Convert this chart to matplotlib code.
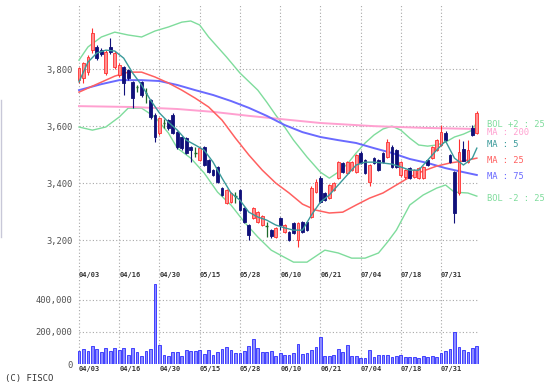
import matplotlib
matplotlib.use("Agg")
import matplotlib.pyplot as plt
import matplotlib.transforms as mtransforms
import numpy as np

# daily candles
opens = [3761, 3768, 3789, 3866, 3877, 3866, 3786, 3877, 3807, 3779,
         3807, 3796, 3754, 3737, 3754, 3716, 3691, 3639, 3576, 3611,
         3621, 3639, 3579, 3562, 3558, 3527, 3506, 3481, 3527, 3481,
         3446, 3457, 3384, 3331, 3334, 3355, 3376, 3313, 3254, 3279,
         3264, 3254, 3250, 3236, 3212, 3279, 3229, 3229, 3261, 3201,
         3264, 3264, 3282, 3369, 3418, 3366, 3348, 3376, 3418, 3471,
         3436, 3446, 3439, 3506, 3481, 3404, 3488, 3481, 3506, 3492,
         3527, 3516, 3429, 3422, 3453, 3422, 3418, 3418, 3481, 3488,
         3516, 3534, 3576, 3499, 3439, 3366, 3520, 3474, 3593, 3576]
highs = [3807, 3825, 3849, 3943, 3884, 3873, 3866, 3908, 3862, 3821,
         3810, 3800, 3758, 3744, 3758, 3734, 3695, 3646, 3632, 3625,
         3625, 3646, 3583, 3565, 3562, 3530, 3527, 3527, 3530, 3485,
         3450, 3460, 3387, 3380, 3369, 3369, 3380, 3317, 3257, 3317,
         3303, 3289, 3264, 3240, 3247, 3282, 3257, 3232, 3264, 3264,
         3268, 3268, 3390, 3415, 3425, 3369, 3398, 3404, 3478, 3474,
         3478, 3478, 3502, 3513, 3485, 3467, 3492, 3485, 3509, 3555,
         3534, 3520, 3478, 3450, 3457, 3450, 3457, 3460, 3485, 3530,
         3555, 3604, 3583, 3502, 3443, 3555, 3548, 3551, 3604, 3653]
lows = [3751, 3751, 3779, 3856, 3831, 3845, 3780, 3852, 3800, 3772,
        3709, 3761, 3663, 3719, 3702, 3681, 3625, 3544, 3569, 3593,
        3586, 3572, 3520, 3516, 3502, 3474, 3492, 3478, 3460, 3436,
        3425, 3401, 3355, 3327, 3331, 3331, 3302, 3261, 3201, 3275,
        3261, 3250, 3212, 3208, 3208, 3236, 3226, 3198, 3222, 3177,
        3226, 3232, 3278, 3366, 3331, 3338, 3345, 3373, 3415, 3436,
        3432, 3443, 3436, 3467, 3432, 3390, 3467, 3443, 3471, 3488,
        3453, 3453, 3422, 3415, 3415, 3418, 3415, 3415, 3460, 3485,
        3513, 3530, 3548, 3471, 3261, 3360, 3478, 3471, 3565, 3572]
closes = [3803, 3821, 3842, 3926, 3838, 3852, 3859, 3859, 3856, 3814,
          3751, 3768, 3698, 3737, 3709, 3716, 3632, 3562, 3628, 3611,
          3593, 3576, 3527, 3523, 3506, 3516, 3506, 3523, 3464, 3439,
          3429, 3404, 3359, 3376, 3366, 3355, 3306, 3264, 3219, 3313,
          3299, 3286, 3250, 3215, 3244, 3254, 3254, 3201, 3226, 3261,
          3229, 3236, 3384, 3404, 3334, 3341, 3394, 3401, 3474, 3439,
          3474, 3474, 3499, 3471, 3436, 3464, 3471, 3446, 3474, 3544,
          3457, 3457, 3474, 3446, 3418, 3446, 3453, 3457, 3464, 3527,
          3551, 3579, 3551, 3474, 3296, 3510, 3478, 3516, 3569, 3646]
volumes = [79000, 94000, 83000, 115000, 94000, 77000, 98000, 83000, 98000,
           90000, 98000, 58000, 98000, 77000, 52000, 79000, 94000, 500000,
           121000, 58000, 52000, 73000, 73000, 52000, 88000, 79000, 79000,
           90000, 62000, 88000, 58000, 73000, 94000, 104000, 90000, 69000,
           69000, 83000, 115000, 156000, 98000, 73000, 73000, 83000, 52000,
           69000, 58000, 58000, 69000, 125000, 62000, 69000, 90000, 104000,
           167000, 52000, 52000, 58000, 94000, 73000, 121000, 52000, 52000,
           37000, 37000, 88000, 42000, 58000, 58000, 58000, 46000, 52000,
           58000, 42000, 42000, 42000, 35000, 48000, 42000, 52000, 42000,
           69000, 83000, 94000, 202000, 104000, 90000, 73000, 100000, 110000]

date_labels = ["04/03", "04/16", "04/30", "05/15", "05/28",
               "06/10", "06/21", "07/04", "07/18", "07/31"]
label_step = 9

# indicator lines, sampled off the chart (bar index, price)
ma5_x = [0, 2, 4, 6, 8, 10, 12, 14, 16, 18, 20, 22, 24, 26, 28, 30, 32, 34, 36, 38,
         40, 42, 44, 46, 48, 50, 52, 54, 56, 58, 60, 62, 64, 66, 68, 70, 72, 74, 76,
         78, 80, 82, 84, 86, 88, 89]
ma5_y = [3755, 3824, 3856, 3866, 3863, 3838, 3786, 3744, 3691, 3646, 3614, 3586,
         3551, 3534, 3516, 3474, 3418, 3366, 3341, 3299, 3282, 3271, 3254, 3244,
         3236, 3236, 3289, 3334, 3359, 3394, 3429, 3464, 3474, 3474, 3471, 3467,
         3457, 3446, 3446, 3481, 3516, 3548, 3488, 3464, 3488, 3523]
ma25_x = [0, 4, 8, 11, 14, 17, 20, 23, 26, 29, 32, 35, 38, 41, 44, 47, 50, 53, 56,
          59, 62, 65, 68, 71, 74, 77, 80, 83, 86, 89]
ma25_y = [3719, 3747, 3775, 3789, 3789, 3772, 3751, 3726, 3698, 3667, 3621, 3558,
          3499, 3446, 3401, 3366, 3327, 3306, 3296, 3299, 3324, 3348, 3366, 3394,
          3422, 3443, 3460, 3471, 3478, 3488]
ma75_x = [0, 5, 9, 14, 18, 22, 26, 30, 34, 38, 42, 46, 50, 54, 58, 62, 66, 70, 74,
          78, 82, 86, 89]
ma75_y = [3726, 3747, 3761, 3761, 3758, 3744, 3726, 3709, 3688, 3664, 3636, 3604,
          3579, 3562, 3551, 3541, 3523, 3506, 3485, 3471, 3453, 3439, 3429]
ma200_x = [0, 12, 22, 30, 38, 45, 54, 66, 77, 89]
ma200_y = [3670, 3667, 3660, 3650, 3636, 3625, 3611, 3600, 3594, 3590]
bolu_x = [0, 2, 5, 8, 11, 14, 17, 20, 23, 25, 27, 29, 31, 33, 36, 40, 42, 44, 46,
          48, 51, 54, 56, 58, 60, 62, 64, 66, 68, 70, 72, 74, 76, 78, 80, 82, 84,
          86, 88, 89]
bolu_y = [3831, 3877, 3912, 3929, 3919, 3912, 3933, 3947, 3964, 3968, 3954, 3912,
          3877, 3842, 3786, 3726, 3684, 3639, 3597, 3551, 3492, 3439, 3418, 3439,
          3467, 3506, 3541, 3569, 3590, 3600, 3586, 3558, 3534, 3530, 3534, 3544,
          3562, 3572, 3586, 3614]
boll_x = [0, 3, 6, 9, 11, 14, 17, 20, 22, 25, 28, 31, 34, 37, 40, 43, 45, 48, 51,
          55, 58, 61, 64, 67, 69, 71, 74, 77, 80, 82, 84, 87, 89]
boll_y = [3597, 3586, 3597, 3632, 3663, 3663, 3632, 3576, 3523, 3488, 3436, 3369,
          3324, 3264, 3212, 3166, 3149, 3124, 3124, 3166, 3156, 3138, 3138, 3156,
          3194, 3236, 3324, 3359, 3383, 3394, 3369, 3366, 3355]

legend_names = ["BOL +2 : 25", "MA : 200", "MA : 5", "MA : 25", "MA : 75", "BOL -2 : 25"]
legend_y = [3607, 3576, 3534, 3478, 3422, 3348]

c_bol = "#7fdc9c"
c_ma200 = "#ffa0d0"
c_ma5 = "#3a9a9a"
c_ma25 = "#ff6060"
c_ma75 = "#6a6aff"
legend_colors = [c_bol, c_ma200, c_ma5, c_ma25, c_ma75, c_bol]

mono = "DejaVu Sans Mono"
grid_kw = dict(colors="#a8a8a8", linestyles=(0, (1, 2)), linewidths=0.8, zorder=0)

W, H = 556, 387
fig = plt.figure(figsize=(W / 100, H / 100), dpi=100)
ax = fig.add_axes([75 / W, 1 - 270 / H, 407 / W, 265 / H])
axv = fig.add_axes([75 / W, 1 - 364 / H, 407 / W, 94 / H], sharex=ax)

n = len(closes)
x = np.arange(n)
xlim = (-4 / 4.47, 403 / 4.47)
grid_end = 399 / 4.47
ax.set_xlim(*xlim)
ax.set_ylim(3096.5, 4024)
axv.set_ylim(0, 587500)

ticks = np.arange(0, n, label_step)[:len(date_labels)]

# grid
price_ticks = [3200, 3400, 3600, 3800]
ax.hlines(price_ticks, 0, grid_end, **grid_kw)
ax.vlines(ticks, 3096.5, 4024, **grid_kw)
axv.hlines([200000, 400000], 0, grid_end, **grid_kw)
axv.vlines(ticks, 0, 587500, **grid_kw)

# indicator lines
ax.plot(bolu_x, bolu_y, color=c_bol, lw=1.0, zorder=2)
ax.plot(boll_x, boll_y, color=c_bol, lw=1.0, zorder=2)
ax.plot(ma200_x, ma200_y, color=c_ma200, lw=1.4, zorder=2)
ax.plot(ma75_x, ma75_y, color=c_ma75, lw=1.4, zorder=2)
ax.plot(ma25_x, ma25_y, color=c_ma25, lw=1.1, zorder=2)
ax.plot(ma5_x, ma5_y, color=c_ma5, lw=1.0, zorder=4)

# candles
o = np.array(opens); c = np.array(closes)
up = c > o
down = c < o
flat = c == o
bw = 0.62
ax.vlines(x[up], np.array(lows)[up], np.array(highs)[up], color="#ff3030", lw=0.8, zorder=3)
ax.vlines(x[down], np.array(lows)[down], np.array(highs)[down], color="#10107a", lw=0.8, zorder=3)
ax.vlines(x[flat], np.array(lows)[flat], np.array(highs)[flat], color="#1f6a2a", lw=0.9, zorder=3)
ax.bar(x[up], (c - o)[up], bottom=o[up], width=bw, color="#ff9090",
       edgecolor="#ff3030", linewidth=0.6, zorder=3)
ax.bar(x[down], (o - c)[down], bottom=c[down], width=bw, color="#10107a",
       edgecolor="#10107a", linewidth=0.6, zorder=3)
ax.hlines(c[flat], x[flat] - bw / 2, x[flat] + bw / 2, color="#1f6a2a", lw=1.0, zorder=3)

# volume
axv.bar(x, volumes, width=0.62, color="#8c8cff", edgecolor="#2a2aff", linewidth=0.6, zorder=2)

# axes cosmetics
for a in (ax, axv):
    for s in a.spines.values():
        s.set_visible(False)
    a.tick_params(length=0, labelsize=6.3, labelcolor="#505050", pad=2)

ax.set_yticks(price_ticks)
ax.set_yticklabels([f"{v:,}" for v in price_ticks], family=mono)
ax.tick_params(axis="x", labelbottom=False)

vol_ticks = [0, 200000, 400000]
axv.set_yticks(vol_ticks)
axv.set_yticklabels([f"{v:,}" for v in vol_ticks], family=mono)
axv.set_xticks(ticks)
axv.set_xticklabels(date_labels, family=mono, fontsize=5, fontweight="bold",
                    color="#333333", ha="left")
axv.tick_params(axis="x", pad=1.5)

trans = mtransforms.blended_transform_factory(axv.transData, axv.transAxes)
for t, lab in zip(ticks, date_labels):
    axv.text(t, (364 - 275) / 94, lab, transform=trans, family=mono, fontsize=5,
             fontweight="bold", color="#333333", ha="left", va="center")

# indicator labels on the right
ltrans = mtransforms.blended_transform_factory(ax.transAxes, ax.transData)
for name, yv, col in zip(legend_names, legend_y, legend_colors):
    ax.text((487 - 75) / 407, yv, name, transform=ltrans, color=col, family=mono,
            fontsize=6.3, va="center", ha="left", clip_on=False)

fig.text(5 / W, 1 - 378 / H, "(C) FISCO", family=mono, fontsize=6.5,
         color="#333333", va="center", ha="left")

# faint frame edge at the far left
fig.add_artist(plt.Line2D([0.6 / W, 0.6 / W], [1 - 237 / H, 1 - 100 / H],
                          color="#c8c8d8", lw=1.0))

fig.savefig("out.png", dpi=100)
